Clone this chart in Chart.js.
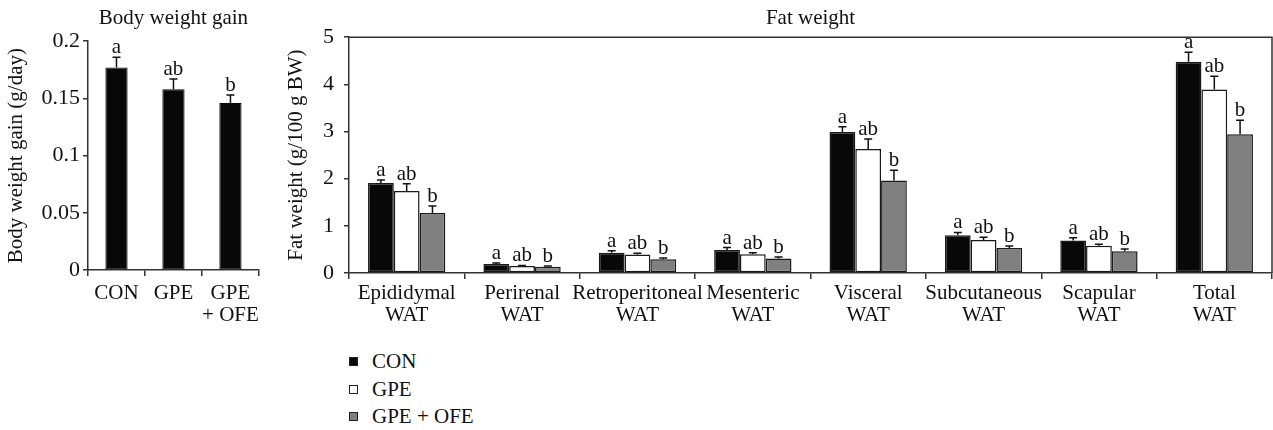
<!DOCTYPE html>
<html>
<head>
<meta charset="utf-8">
<script src="https://cdn.jsdelivr.net/npm/chart.js@4.4.0/dist/chart.umd.min.js"></script>
<style>
  body { margin: 0; background: #fff; width: 1273px; height: 430px; overflow: hidden; position: relative; font-family: 'Liberation Serif', serif; }
  #bwgWrap { position: absolute; left: 0; top: 0; width: 266px; height: 340px; }
  #fatWrap { position: absolute; left: 280px; top: 0; width: 993px; height: 340px; }
  #legend { position: absolute; left: 349px; top: 348px; font-size: 21px; color: #111; }
  .item { height: 27.5px; display: flex; align-items: center; }
  .box { width: 7px; height: 7px; border: 1.5px solid #222; margin-right: 14px; }
</style>
</head>
<body>
<div id="bwgWrap"><canvas id="bwgChart"></canvas></div>
<div id="fatWrap"><canvas id="fatChart"></canvas></div>
<div id="legend"></div>
<script>
// group names and colours
const groups = ['CON', 'GPE', 'GPE + OFE'];
const groupColors = ['#080808', '#ffffff', '#808080'];

// body weight gain (g/day)
const bwgLabels = ['CON', 'GPE', ['GPE', '+ OFE']];
const bwgMean = [0.177, 0.158, 0.146];
const bwgErr = [0.009, 0.009, 0.007];
const bwgLetters = ['a', 'ab', 'b'];

// fat weight (g/100 g BW)
const fatLabels = [['Epididymal', 'WAT'], ['Perirenal', 'WAT'], ['Retroperitoneal', 'WAT'], ['Mesenteric', 'WAT'],
                   ['Visceral', 'WAT'], ['Subcutaneous', 'WAT'], ['Scapular', 'WAT'], ['Total', 'WAT']];
const conMean = [1.91, 0.19, 0.43, 0.49, 2.99, 0.80, 0.69, 4.48];
const conErr  = [0.06, 0.02, 0.04, 0.05, 0.11, 0.06, 0.06, 0.20];
const gpeMean = [1.74, 0.15, 0.39, 0.40, 2.63, 0.70, 0.58, 3.89];
const gpeErr  = [0.15, 0.01, 0.03, 0.03, 0.21, 0.06, 0.03, 0.28];
const ofeMean = [1.27, 0.13, 0.29, 0.31, 1.96, 0.53, 0.46, 2.94];
const ofeErr  = [0.15, 0.02, 0.03, 0.03, 0.22, 0.04, 0.05, 0.30];
const conLetters = ['a', 'a', 'a', 'a', 'a', 'a', 'a', 'a'];
const gpeLetters = ['ab', 'ab', 'ab', 'ab', 'ab', 'ab', 'ab', 'ab'];
const ofeLetters = ['b', 'b', 'b', 'b', 'b', 'b', 'b', 'b'];

Chart.defaults.font.family = "'Liberation Serif', 'Times New Roman', serif";
Chart.defaults.font.size = 21;
Chart.defaults.color = '#111';
Chart.defaults.animation = false;

const axisColor = '#333';

// error bars (upper only) and significance letters
const errorBars = {
    id: 'errorBars',
    afterDatasetsDraw(chart) {
        const ctx = chart.ctx;
        const yScale = chart.scales.y;
        chart.data.datasets.forEach((ds, i) => {
            const meta = chart.getDatasetMeta(i);
            meta.data.forEach((bar, j) => {
                const top = yScale.getPixelForValue(ds.data[j] + ds.errors[j]);
                ctx.save();
                ctx.strokeStyle = '#111';
                ctx.lineWidth = 1.5;
                ctx.beginPath();
                ctx.moveTo(bar.x, bar.y);
                ctx.lineTo(bar.x, top);
                ctx.moveTo(bar.x - 4, top);
                ctx.lineTo(bar.x + 4, top);
                ctx.stroke();
                ctx.fillStyle = '#111';
                ctx.font = "21px 'Liberation Serif', serif";
                ctx.textAlign = 'center';
                ctx.textBaseline = 'alphabetic';
                ctx.fillText(ds.letters[j], bar.x, top - 4);
                ctx.restore();
            });
        });
    }
};

// top and right border of the plot box
const frame = {
    id: 'frame',
    afterDraw(chart) {
        const { left, top, right, bottom } = chart.chartArea;
        const ctx = chart.ctx;
        ctx.save();
        ctx.strokeStyle = axisColor;
        ctx.lineWidth = 1.5;
        ctx.beginPath();
        ctx.moveTo(left, top);
        ctx.lineTo(right, top);
        ctx.lineTo(right, bottom);
        ctx.stroke();
        ctx.restore();
    }
};

function xAxis(height, pad) {
    return {
        grid: { display: true, drawOnChartArea: false, drawTicks: true, tickLength: 6, color: axisColor, lineWidth: 1.5, offset: true },
        border: { color: axisColor, width: 1.5 },
        ticks: { padding: pad, maxRotation: 0, autoSkip: false, font: { size: 21, lineHeight: 1.05 } },
        afterFit: function (axis) { axis.height = height; }
    };
}

function yAxis(width, pad, max, step, titleText) {
    return {
        min: 0,
        max: max,
        grid: { display: true, drawOnChartArea: false, drawTicks: true, tickLength: 5, color: axisColor, lineWidth: 1.5 },
        border: { color: axisColor, width: 1.5 },
        ticks: {
            stepSize: step,
            padding: pad,
            font: { size: 22 },
            callback: function (value) {
                return String(+value.toFixed(2));
            }
        },
        title: { display: true, text: titleText, padding: { top: 4, bottom: 0 }, font: { size: 21 } },
        afterFit: function (axis) { axis.width = width; }
    };
}

window.bwgChart = new Chart(document.getElementById('bwgChart'), {
    type: 'bar',
    data: {
        labels: bwgLabels,
        datasets: [{
            label: 'Body weight gain',
            data: bwgMean,
            errors: bwgErr,
            letters: bwgLetters,
            backgroundColor: groupColors[0],
            borderColor: '#080808',
            borderWidth: 1,
            borderSkipped: false,
            barPercentage: 0.39,
            categoryPercentage: 1
        }]
    },
    options: {
        responsive: true,
        maintainAspectRatio: false,
        layout: { padding: { left: 0, right: 5, top: 0, bottom: 0 } },
        plugins: {
            legend: { display: false },
            tooltip: { enabled: false },
            title: { display: true, text: 'Body weight gain', fullSize: false, padding: { top: 6, bottom: 10 }, font: { size: 21, weight: 'normal' }, color: '#111' }
        },
        scales: {
            x: xAxis(70, 6),
            y: yAxis(88, 3, 0.2, 0.05, 'Body weight gain (g/day)')
        }
    },
    plugins: [errorBars]
});

const fatSeries = [
    { mean: conMean, err: conErr, letters: conLetters },
    { mean: gpeMean, err: gpeErr, letters: gpeLetters },
    { mean: ofeMean, err: ofeErr, letters: ofeLetters }
];

window.fatChart = new Chart(document.getElementById('fatChart'), {
    type: 'bar',
    data: {
        labels: fatLabels,
        datasets: fatSeries.map(function (s, i) {
            return {
                label: groups[i],
                data: s.mean,
                errors: s.err,
                letters: s.letters,
                backgroundColor: groupColors[i],
                borderColor: '#1a1a1a',
                borderWidth: 1.5,
                borderSkipped: false,
                barPercentage: 1,
                categoryPercentage: 0.67
            };
        })
    },
    options: {
        responsive: true,
        maintainAspectRatio: false,
        layout: { padding: { left: 0, right: 1, top: 0, bottom: 0 } },
        plugins: {
            legend: { display: false },
            tooltip: { enabled: false },
            title: { display: true, text: 'Fat weight', fullSize: false, padding: { top: 6, bottom: 6 }, font: { size: 21, weight: 'normal' }, color: '#111' }
        },
        scales: {
            x: xAxis(67, 3),
            y: yAxis(69, 10, 5, 1, 'Fat weight (g/100 g BW)')
        }
    },
    plugins: [errorBars, frame]
});

// legend, one row per group
const legendEl = document.getElementById('legend');
groups.forEach(function (g, i) {
    const row = document.createElement('div');
    row.className = 'item';
    const box = document.createElement('span');
    box.className = 'box';
    box.style.background = groupColors[i];
    const txt = document.createElement('span');
    txt.textContent = g;
    row.appendChild(box);
    row.appendChild(txt);
    legendEl.appendChild(row);
});
</script>
</body>
</html>
